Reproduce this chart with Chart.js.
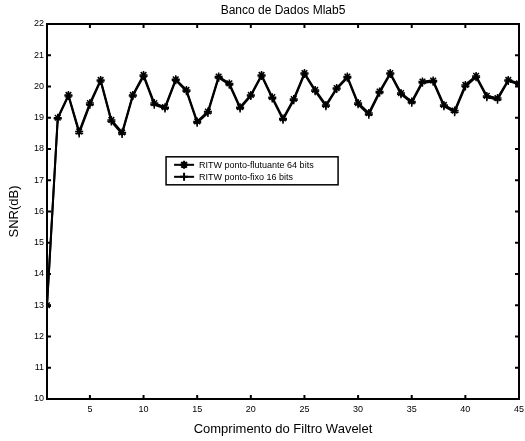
<!DOCTYPE html>
<html>
<head>
<meta charset="utf-8">
<script src="https://cdn.jsdelivr.net/npm/chart.js@4.4.0/dist/chart.umd.min.js"></script>
<style>
  body { margin: 0; background: #fff; }
  #wrap { width: 525px; height: 441px; }
</style>
</head>
<body>
<div id="wrap"><canvas id="snrChart" width="525" height="441"></canvas></div>
<script>
// comprimento do filtro (eixo x)
var filterLen = [1,2,3,4,5,6,7,8,9,10,11,12,13,14,15,16,17,18,19,20,21,22,23,24,25,26,27,28,29,30,31,32,33,34,35,36,37,38,39,40,41,42,43,44,45];

// SNR (dB) - ponto flutuante 64 bits
var snrFloat = [13.0,19.0,19.73,18.56,19.47,20.21,18.93,18.53,19.73,20.37,19.47,19.34,20.23,19.89,18.88,19.2,20.32,20.1,19.34,19.73,20.37,19.66,18.98,19.6,20.43,19.89,19.41,19.95,20.32,19.47,19.15,19.84,20.43,19.79,19.52,20.16,20.19,19.41,19.23,20.05,20.34,19.7,19.63,20.21,20.1];

// SNR (dB) - ponto fixo 16 bits
var snrFixed = [12.97,18.97,19.7,18.5,19.42,20.18,18.88,18.48,19.7,20.33,19.42,19.3,20.2,19.85,18.84,19.15,20.28,20.06,19.3,19.7,20.34,19.62,18.94,19.56,20.4,19.85,19.37,19.92,20.28,19.43,19.1,19.8,20.4,19.75,19.48,20.12,20.15,19.37,19.18,20.0,20.3,19.66,19.58,20.18,20.06];

var xTicks = [5,10,15,20,25,30,35,40,45];
var yTicks = [10,11,12,13,14,15,16,17,18,19,20,21,22];

var chartTitle = 'Banco de Dados Mlab5';
var labelFloat = 'RITW ponto-flutuante 64 bits';
var labelFixed = 'RITW ponto-fixo 16 bits';

function toPoints(ys) {
  return filterLen.map(function(x, i) { return {x: x, y: ys[i]}; });
}

// moldura, marcas internas (estilo matlab), titulo e legenda dentro do grafico
var matlabAxes = {
  id: 'matlabAxes',
  afterDraw: function(chart) {
    var ctx = chart.ctx;
    var a = chart.chartArea;
    var xs = chart.scales.x, ys = chart.scales.y;
    ctx.save();
    ctx.strokeStyle = '#000';
    ctx.lineWidth = 2;
    ctx.strokeRect(a.left, a.top, a.right - a.left, a.bottom - a.top);
    var len = 4;
    xTicks.forEach(function(v) {
      var px = xs.getPixelForValue(v);
      ctx.beginPath();
      ctx.moveTo(px, a.bottom); ctx.lineTo(px, a.bottom - len);
      ctx.moveTo(px, a.top); ctx.lineTo(px, a.top + len);
      ctx.stroke();
    });
    yTicks.forEach(function(v) {
      var py = ys.getPixelForValue(v);
      ctx.beginPath();
      ctx.moveTo(a.left, py); ctx.lineTo(a.left + len, py);
      ctx.moveTo(a.right, py); ctx.lineTo(a.right - len, py);
      ctx.stroke();
    });

    // titulo centrado sobre a area do grafico
    ctx.fillStyle = '#000';
    ctx.font = '12px "Liberation Sans", Arial, sans-serif';
    ctx.textAlign = 'center';
    ctx.textBaseline = 'middle';
    ctx.fillText(chartTitle, (a.left + a.right) / 2, a.top - 13);

    // legenda
    var bx = xs.getPixelForValue(12.1), by = ys.getPixelForValue(17.75);
    var bw = 172, bh = 28;
    ctx.fillStyle = '#fff';
    ctx.fillRect(bx, by, bw, bh);
    ctx.lineWidth = 1.5;
    ctx.strokeRect(bx, by, bw, bh);
    ctx.font = '9px "Liberation Sans", Arial, sans-serif';
    ctx.textAlign = 'left';
    var rows = [
      {label: chart.data.datasets[0].label, style: 'star'},
      {label: chart.data.datasets[1].label, style: 'cross'}
    ];
    rows.forEach(function(r, i) {
      var cy = by + 8 + i * 12;
      ctx.strokeStyle = '#000';
      ctx.lineWidth = 2;
      ctx.beginPath();
      ctx.moveTo(bx + 8, cy); ctx.lineTo(bx + 28, cy);
      ctx.stroke();
      Chart.helpers.drawPoint(ctx, {pointStyle: r.style, radius: 4, borderWidth: 1.5}, bx + 18, cy);
      ctx.fillStyle = '#000';
      ctx.fillText(r.label, bx + 33, cy + 1);
    });
    ctx.restore();
  }
};

var tickFont = {family: '"Liberation Sans", Arial, sans-serif', size: 9};

var ctx = document.getElementById('snrChart').getContext('2d');
var myChart = new Chart(ctx, {
  type: 'line',
  plugins: [matlabAxes],
  data: {
    datasets: [{
      label: labelFloat,
      data: toPoints(snrFloat),
      borderColor: '#000',
      backgroundColor: '#000',
      borderWidth: 2,
      pointStyle: 'star',
      pointRadius: 4,
      pointBorderWidth: 1.5,
      tension: 0
    }, {
      label: labelFixed,
      data: toPoints(snrFixed),
      borderColor: '#000',
      backgroundColor: '#000',
      borderWidth: 2,
      pointStyle: 'cross',
      pointRadius: 4,
      pointBorderWidth: 1.5,
      tension: 0
    }]
  },
  options: {
    responsive: false,
    animation: false,
    layout: { padding: {left: 0, right: 6, top: 24, bottom: 0} },
    plugins: {
      legend: { display: false },
      tooltip: { enabled: false },
      title: { display: false }
    },
    scales: {
      x: {
        type: 'linear',
        min: 1,
        max: 45,
        grid: { display: false, drawTicks: false },
        border: { display: false },
        afterBuildTicks: function(s) { s.ticks = xTicks.map(function(v) { return {value: v}; }); },
        afterFit: function(s) { s.height = 42; s.paddingRight = 0; s.paddingLeft = 0; },
        ticks: { color: '#000', font: tickFont, padding: 5, maxRotation: 0 },
        title: {
          display: true,
          text: 'Comprimento do Filtro Wavelet',
          color: '#000',
          font: {family: '"Liberation Sans", Arial, sans-serif', size: 13},
          padding: {top: 0}
        }
      },
      y: {
        min: 10,
        max: 22,
        grid: { display: false, drawTicks: false },
        border: { display: false },
        afterBuildTicks: function(s) { s.ticks = yTicks.map(function(v) { return {value: v}; }); },
        afterFit: function(s) { s.width = 47; s.paddingTop = 0; s.paddingBottom = 0; },
        ticks: { color: '#000', font: tickFont, padding: 3 },
        title: {
          display: true,
          text: 'SNR(dB)',
          color: '#000',
          font: {family: '"Liberation Sans", Arial, sans-serif', size: 13},
          padding: {top: 7, bottom: 0}
        }
      }
    }
  }
});
</script>
</body>
</html>
